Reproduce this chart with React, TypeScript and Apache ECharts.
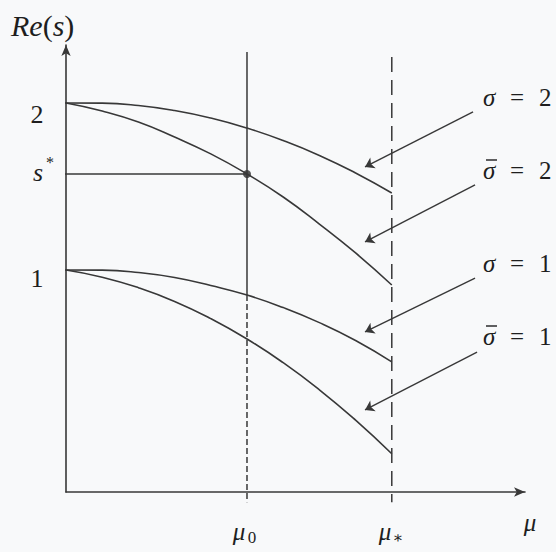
import { useEffect, useRef } from "react";
import * as echarts from "echarts";

// Parameter axis samples (mu) and Re(s) for each curve
const mu = [0, 0.2, 0.4, 0.6, 0.8, 1.0, 1.2, 1.4, 1.6, 1.8];
const sigma2 = [2.0, 1.999, 1.985, 1.955, 1.91, 1.85, 1.775, 1.686, 1.581, 1.461];
const sigmaBar2 = [2.0, 1.952, 1.886, 1.796, 1.695, 1.575, 1.437, 1.275, 1.102, 0.91];
const sigma1 = [1.0, 0.999, 0.985, 0.955, 0.907, 0.85, 0.775, 0.685, 0.578, 0.45];
const sigmaBar1 = [1.0, 0.957, 0.894, 0.812, 0.709, 0.587, 0.445, 0.283, 0.101, -0.1];

// Marked values
const mu0 = 1.0;
const muStar = 1.8;
const sStar = 1.575;
const yTicks = [1, 2];

// Axis extents
const xMin = 0;
const xMax = 2.536;
const yMin = -0.329;
const yMax = 2.347;

// Arrow pointers from the legend labels to their curves
const arrowFrom = [
  [2.249, 1.946],
  [2.26, 1.509],
  [2.26, 0.952],
  [2.271, 0.509],
];
const arrowTo = [
  [1.652, 1.617],
  [1.652, 1.168],
  [1.652, 0.629],
  [1.652, 0.162],
];

const INK = "#383838";
const SERIF = "'Liberation Serif', 'DejaVu Serif', serif";

export default function App() {
  const ref = useRef<HTMLDivElement>(null);

  useEffect(() => {
    const chart = echarts.init(ref.current!, null, { renderer: "svg" });

    const curve = (vals: number[]) => ({
      type: "line",
      data: mu.map((m, i) => [m, vals[i]]),
      smooth: true,
      symbol: "none",
      silent: true,
      lineStyle: { color: INK, width: 1.6 },
    });

    const segment = (coords: number[][], dash?: number[]) => ({
      type: "line",
      data: coords,
      symbol: "none",
      clip: false,
      silent: true,
      lineStyle: {
        color: INK,
        width: 1.5,
        type: dash ? dash : "solid",
      },
    });

    const text = (
      str: string,
      x: number,
      y: number,
      size: number,
      italic = false,
      align = "left"
    ) => ({
      type: "text",
      x,
      y,
      silent: true,
      style: {
        text: str,
        fill: "#1e1e1e",
        font: `${italic ? "italic " : ""}${size}px ${SERIF}`,
        textAlign: align,
        textVerticalAlign: "middle",
      },
    });

    const legend = (sym: string, num: string, y: number, bar: boolean) => {
      const parts: any[] = [
        text(sym, 483, y, 25, true),
        text("=", 510, y, 25),
        text(num, 539, y, 25),
      ];
      if (bar) {
        parts.push({
          type: "line",
          silent: true,
          shape: { x1: 486, y1: y - 10, x2: 497, y2: y - 10 },
          style: { stroke: "#1e1e1e", lineWidth: 1.4 },
        });
      }
      return parts;
    };

    chart.setOption({
      animation: false,
      backgroundColor: "#f8f9fa",
      grid: { left: 66, top: 45, right: 31, bottom: 60 },
      xAxis: {
        type: "value",
        min: xMin,
        max: xMax,
        axisLine: {
          onZero: false,
          symbol: ["none", "arrow"],
          symbolSize: [7, 11],
          lineStyle: { color: INK, width: 1.6 },
        },
        axisTick: { show: false },
        axisLabel: { show: false },
        splitLine: { show: false },
      },
      yAxis: {
        type: "value",
        min: yMin,
        max: yMax,
        axisLine: {
          onZero: false,
          symbol: ["none", "arrow"],
          symbolSize: [7, 11],
          lineStyle: { color: INK, width: 1.6 },
        },
        axisTick: { show: false },
        axisLabel: { show: false },
        splitLine: { show: false },
      },
      series: [
        curve(sigma2),
        curve(sigmaBar2),
        curve(sigma1),
        curve(sigmaBar1),
        // mu0: solid above the sigma=1 curve, dashed below it
        segment([
          [mu0, 2.305],
          [mu0, sigma1[mu.indexOf(mu0)]],
        ]),
        segment(
          [
            [mu0, sigma1[mu.indexOf(mu0)]],
            [mu0, -0.39],
          ],
          [6, 3]
        ),
        // mu*: dashed from top to below the axis
        segment(
          [
            [muStar, 2.275],
            [muStar, -0.39],
          ],
          [15, 8]
        ),
        // short ticks at the labelled levels
        ...yTicks.map((t) =>
          segment([
            [-0.055, t],
            [0, t],
          ])
        ),
        // s* guide
        segment([
          [-0.055, sStar],
          [mu0, sStar],
        ]),
        {
          type: "scatter",
          data: [[mu0, sStar]],
          symbolSize: 8,
          silent: true,
          itemStyle: { color: "#2a2a2a" },
        },
        {
          type: "lines",
          coordinateSystem: "cartesian2d",
          symbol: ["none", "arrow"],
          symbolSize: [0, 9],
          silent: true,
          lineStyle: { color: INK, width: 1.4, opacity: 1 },
          data: arrowFrom.map((f, i) => ({ coords: [f, arrowTo[i]] })),
        },
      ],
      graphic: [
        {
          type: "text",
          x: 11,
          y: 25,
          silent: true,
          style: {
            text: "{i|Re}{u|(}{i|s}{u|)}",
            fill: "#1e1e1e",
            textVerticalAlign: "middle",
            rich: {
              i: { fontFamily: SERIF, fontStyle: "italic", fontSize: 30, fill: "#1e1e1e" },
              u: { fontFamily: SERIF, fontSize: 30, fill: "#1e1e1e" },
            },
          },
        },
        text("2", 37, 114, 26, false, "center"),
        text("1", 37, 278, 26, false, "center"),
        text("s", 38, 172, 26, true, "center"),
        text("*", 50, 162, 16, false, "center"),
        text("μ", 239, 531, 25, true, "center"),
        text("0", 252, 537, 17, false, "center"),
        text("μ", 385, 531, 25, true, "center"),
        text("∗", 398, 537, 16, false, "center"),
        text("μ", 530, 522, 25, true, "center"),
        ...legend("σ", "2", 97, false),
        ...legend("σ", "2", 170, true),
        ...legend("σ", "1", 263, false),
        ...legend("σ", "1", 336, true),
      ],
    });

    return () => chart.dispose();
  }, []);

  return (
    <div
      ref={ref}
      style={{ position: "fixed", left: 0, top: 0, width: 556, height: 552 }}
    />
  );
}
